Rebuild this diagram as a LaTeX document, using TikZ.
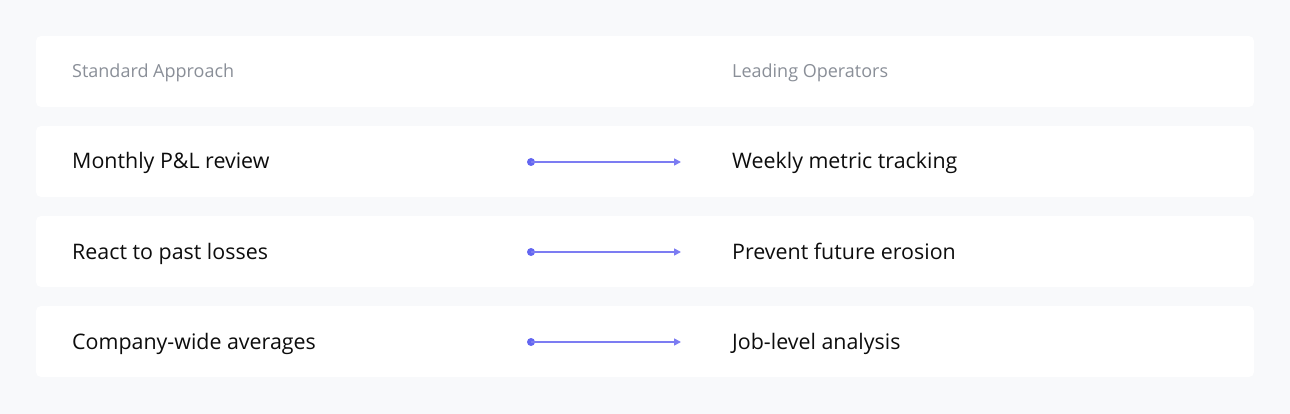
\documentclass[tikz,border=0pt]{standalone}
\usepackage{fontspec}
\setmainfont{Open Sans}
\usetikzlibrary{arrows.meta}
\definecolor{bg}{HTML}{F8F9FB}
\definecolor{hdr}{HTML}{8A8F98}
\definecolor{txt}{HTML}{0D0D0D}
\definecolor{accent}{HTML}{6366F1}
\definecolor{accline}{HTML}{7C7CF2}
\tikzset{
  rowbox/.style={fill=white, draw=none, rounded corners=5pt},
  hdrtext/.style={anchor=base west, text=hdr, font=\fontsize{18}{20}\selectfont, inner sep=0pt},
  bodytext/.style={anchor=base west, text=txt, font=\fontsize{21.4}{23}\selectfont, inner sep=0pt},
  dotstart/.style={circle, fill=accent, minimum size=8pt, inner sep=0pt},
  conn/.style={draw=accline, line width=1.6pt, -{Triangle[length=7pt,width=7pt]}},
}
\begin{document}
\begin{tikzpicture}[x=1pt,y=-1pt]
\fill[bg] (0,0) rectangle (1290,414);
\useasboundingbox (0,0) rectangle (1290,414);
\fill[rowbox] (36,36) rectangle (1254,107);
\fill[rowbox] (36,126) rectangle (1254,197);
\fill[rowbox] (36,216) rectangle (1254,287);
\fill[rowbox] (36,306) rectangle (1254,377);
\node[hdrtext] (h1) at (72,78) {Standard Approach};
\node[hdrtext] (h2) at (732,78) {Leading Operators};
\node[bodytext] (l1) at (72,169) {Monthly P\&L review};
\node[bodytext] (r1) at (732,169) {Weekly metric tracking};
\node[bodytext] (l2) at (72,259) {React to past losses};
\node[bodytext] (r2) at (732,259) {Prevent future erosion};
\node[bodytext] (l3) at (72,349) {Company-wide averages};
\node[bodytext] (r3) at (732,349) {Job-level analysis};
\node[dotstart] (d1) at (531,162) {};
\node[dotstart] (d2) at (531,252) {};
\node[dotstart] (d3) at (531,342) {};
\coordinate (e1) at (681,162);
\coordinate (e2) at (681,252);
\coordinate (e3) at (681,342);
\draw[conn] (d1.center) -- (e1);
\draw[conn] (d2.center) -- (e2);
\draw[conn] (d3.center) -- (e3);
\end{tikzpicture}
\end{document}
